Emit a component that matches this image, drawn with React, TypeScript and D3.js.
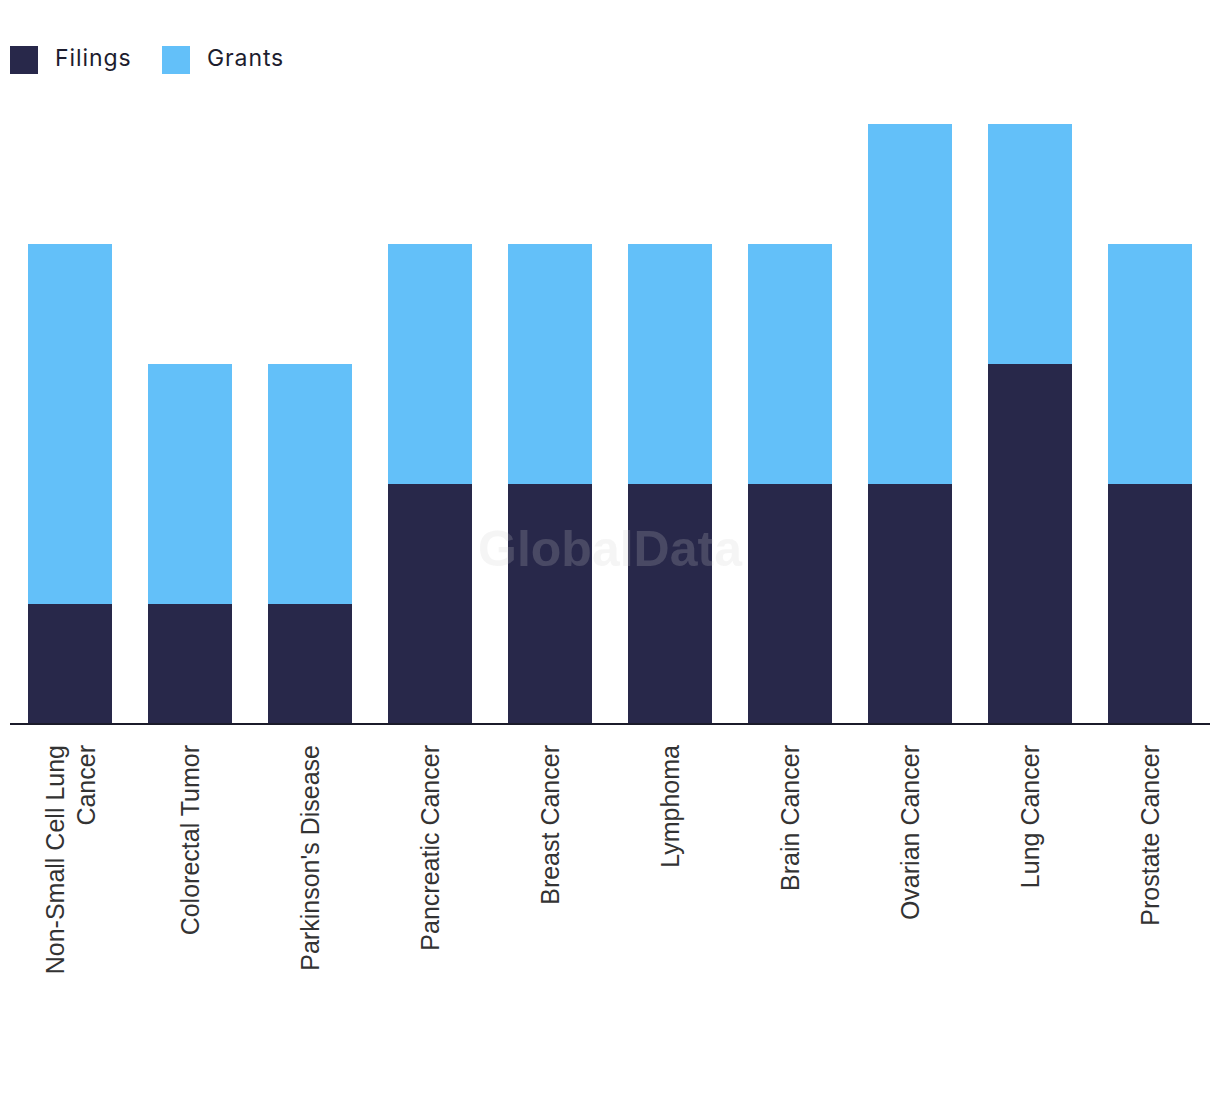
import React from "react";
import * as d3 from "d3";

const categories: string[][] = [
  ["Non-Small Cell Lung", "Cancer"],
  ["Colorectal Tumor"],
  ["Parkinson's Disease"],
  ["Pancreatic Cancer"],
  ["Breast Cancer"],
  ["Lymphoma"],
  ["Brain Cancer"],
  ["Ovarian Cancer"],
  ["Lung Cancer"],
  ["Prostate Cancer"],
];
const filings = [1, 1, 1, 2, 2, 2, 2, 2, 3, 2];
const grants = [3, 2, 2, 2, 2, 2, 2, 3, 2, 2];
const seriesNames = ["Filings", "Grants"];
const seriesColors = ["#28284a", "#63c0f9"];

export default function App() {
  const W = 1220, H = 1094;
  const x0 = 10, x1 = 1210, baseY = 724, topY = 124;
  const keys = categories.map((c) => c.join(" "));
  const x = d3.scaleBand<string>().domain(keys).range([x0, x1]).paddingInner(0.3).paddingOuter(0.15);
  const y = d3.scaleLinear().domain([0, 5]).range([baseY, topY]);
  const rows = keys.map((k, i) => ({ key: k, Filings: filings[i], Grants: grants[i] }));
  const stacked = d3.stack<any>().keys(seriesNames)(rows);
  const labelFont = "'Liberation Sans', Arial, sans-serif";
  const legendFont = "Inter, 'Noto Sans', sans-serif";

  return (
    <svg width={W} height={H} style={{ display: "block", position: "absolute", left: 0, top: 0 }}>
      <rect width={W} height={H} fill="#fff" />
      {seriesNames.map((s, i) => {
        const lx = [10, 162][i];
        return (
          <g key={s}>
            <rect x={lx} y={46} width={28} height={28} fill={seriesColors[i]} />
            <text x={lx + 45} y={66} fontFamily={legendFont} fontSize={23} letterSpacing={0.9} fill="#1d1d2e">{s}</text>
          </g>
        );
      })}
      {stacked.map((layer, si) => (
        <g key={layer.key} fill={seriesColors[si]}>
          {layer.map((d: any, i: number) => (
            <rect key={i} x={x(keys[i])} y={y(d[1])} width={x.bandwidth()} height={y(d[0]) - y(d[1])} />
          ))}
        </g>
      ))}
      <text x={610} y={566} textAnchor="middle" fontFamily={labelFont} fontWeight="bold" fontSize={50} fill="#cccccc" fillOpacity={0.2}>GlobalData</text>
      <line x1={x0} x2={x1} y1={baseY} y2={baseY} stroke="#1b1b2a" strokeWidth={2} />
      {categories.map((lines, i) => {
        const cx = (x(keys[i]) as number) + x.bandwidth() / 2;
        const lh = 31;
        const n = lines.length;
        return (
          <g key={i}>
            {lines.map((ln, j) => {
              const off = (j - (n - 1) / 2) * lh;
              const tx = cx + off + 9;
              return (
                <text key={j} transform={`translate(${tx},745) rotate(-90)`} textAnchor="end" fontFamily={labelFont} fontSize={25} fill="#333">{ln}</text>
              );
            })}
          </g>
        );
      })}
    </svg>
  );
}
